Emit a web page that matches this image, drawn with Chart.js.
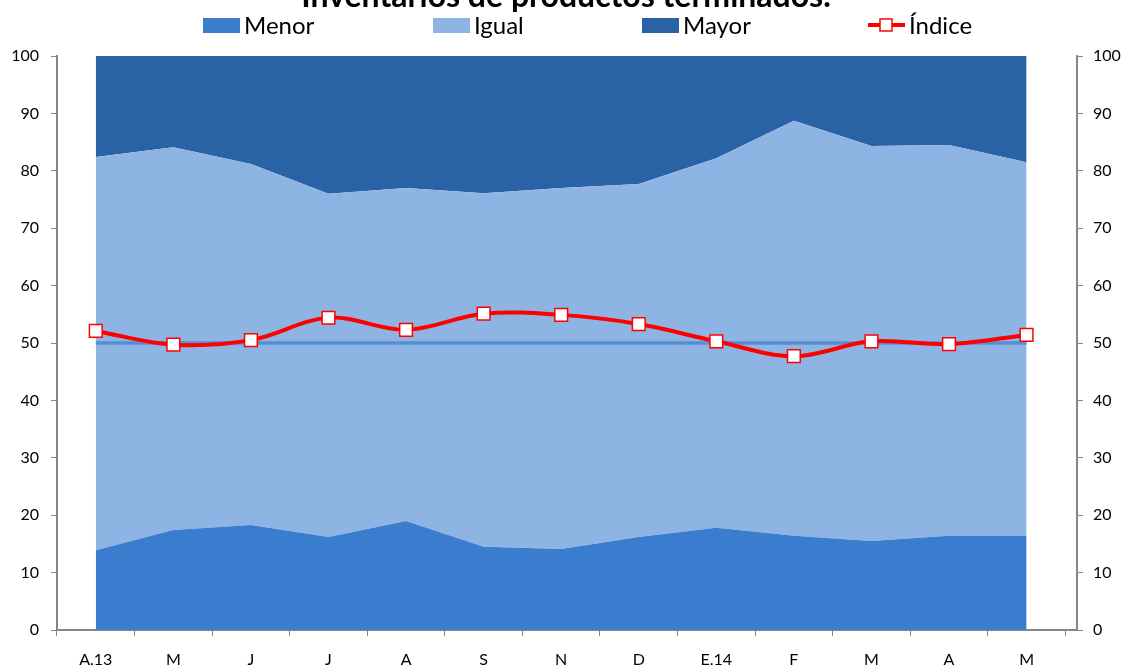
<!DOCTYPE html>
<html>
<head>
<meta charset="utf-8">
<script src="https://cdn.jsdelivr.net/npm/chart.js@4"></script>
<style>
  html, body { margin: 0; padding: 0; background: #fff; }
  #wrap { width: 1123px; height: 669px; }
</style>
</head>
<body>
<div id="wrap"><canvas id="grafico"></canvas></div>
<script>
const labels = ["A.13", "M", "J", "J", "A", "S", "N", "D", "E.14", "F", "M", "A", "M"];
const menor = [13.9, 17.4, 18.3, 16.2, 19.0, 14.5, 14.1, 16.2, 17.8, 16.4, 15.5, 16.4, 16.4];
const igual = [68.5, 66.7, 62.9, 59.8, 58.0, 61.6, 62.9, 61.5, 64.4, 72.3, 68.8, 68.1, 65.1];
const mayor = [17.6, 15.9, 18.8, 24.0, 23.0, 23.9, 23.0, 22.3, 17.8, 11.3, 15.7, 15.5, 18.5];
const indice = [52.1, 49.7, 50.5, 54.4, 52.3, 55.1, 54.9, 53.3, 50.3, 47.7, 50.3, 49.8, 51.4];
const referencia = [50, 50, 50, 50, 50, 50, 50, 50, 50, 50, 50, 50, 50];

const FONT = "Lato, 'Open Sans', sans-serif";
const GRIS = "#868686";

// titulo cortado arriba, como en la imagen
const tituloPlugin = {
  id: "titulo",
  afterDraw(chart) {
    const ctx = chart.ctx;
    ctx.save();
    ctx.font = "bold 32px " + FONT;
    ctx.fillStyle = "#000";
    ctx.textAlign = "center";
    ctx.textBaseline = "alphabetic";
    ctx.fillText("Inventarios de productos terminados.", 566, 7);
    ctx.restore();
  }
};

// leyenda a mano (posiciones como en Excel)
const leyendaPlugin = {
  id: "leyenda",
  afterDraw(chart) {
    const ctx = chart.ctx;
    const xs = [203, 433, 642, 868];
    const y = 25;
    ctx.save();
    ctx.font = "24px " + FONT;
    ctx.textBaseline = "middle";
    ctx.textAlign = "left";
    [0, 1, 2, 4].forEach((di, i) => {
      const ds = chart.data.datasets[di];
      const x = xs[i];
      if (ds.fill !== false) {
        ctx.fillStyle = ds.backgroundColor;
        ctx.fillRect(x, y - 7, 37, 15);
      } else {
        ctx.strokeStyle = ds.borderColor;
        ctx.lineWidth = 4;
        ctx.beginPath();
        ctx.moveTo(x, y);
        ctx.lineTo(x + 37, y);
        ctx.stroke();
        ctx.fillStyle = "#fff";
        ctx.lineWidth = 1.5;
        ctx.fillRect(x + 12, y - 6, 12, 12);
        ctx.strokeRect(x + 12, y - 6, 12, 12);
      }
      ctx.fillStyle = "#000";
      ctx.fillText(ds.label, x + 41, y + 1);
    });
    ctx.restore();
  }
};

new Chart(document.getElementById("grafico"), {
  type: "line",
  data: {
    labels: labels,
    datasets: [
      {
        label: "Menor",
        data: menor,
        yAxisID: "y",
        fill: "origin",
        backgroundColor: "#3A7DCE",
        borderColor: "#3A7DCE",
        borderWidth: 0,
        pointRadius: 0,
        order: 3
      },
      {
        label: "Igual",
        data: igual,
        yAxisID: "y",
        fill: "-1",
        backgroundColor: "#8EB4E3",
        borderColor: "#8EB4E3",
        borderWidth: 0,
        pointRadius: 0,
        order: 3
      },
      {
        label: "Mayor",
        data: mayor,
        yAxisID: "y",
        fill: "-1",
        backgroundColor: "#2A62A6",
        borderColor: "#2A62A6",
        borderWidth: 0,
        pointRadius: 0,
        order: 3
      },
      {
        label: "50",
        data: referencia,
        yAxisID: "y2",
        fill: false,
        borderColor: "#558ED5",
        borderWidth: 3.5,
        pointRadius: 0,
        order: 2
      },
      {
        label: "Índice",
        data: indice,
        yAxisID: "y2",
        fill: false,
        borderColor: "#FF0000",
        borderWidth: 4,
        tension: 0.35,
        pointStyle: "rect",
        pointRadius: 9,
        pointBackgroundColor: "#fff",
        pointBorderColor: "#FF0000",
        pointBorderWidth: 1.5,
        order: 1
      }
    ]
  },
  options: {
    responsive: true,
    maintainAspectRatio: false,
    animation: false,
    layout: {
      padding: { top: 56, left: 0, right: 0, bottom: 0 }
    },
    plugins: {
      legend: { display: false },
      title: { display: false },
      tooltip: { enabled: false }
    },
    scales: {
      x: {
        offset: true,
        // en Excel las categorias no llegan hasta el eje derecho
        afterBuildTicks(s) { s._valueRange = s._valueRange + 0.15; },
        grid: { offset: true, drawOnChartArea: false, tickLength: 6, color: GRIS },
        border: { color: GRIS, width: 2 },
        ticks: { color: "#000", padding: 14, font: { family: FONT, size: 16 } },
        afterFit(s) { s.height = 39; }
      },
      y: {
        position: "left",
        stacked: true,
        min: 0,
        max: 100,
        ticks: { stepSize: 10, color: "#000", padding: 12, font: { family: FONT, size: 16 } },
        grid: { drawOnChartArea: false, tickLength: 6, color: GRIS },
        border: { color: GRIS, width: 2 },
        afterFit(s) { s.width = 57; }
      },
      y2: {
        position: "right",
        min: 0,
        max: 100,
        ticks: { stepSize: 10, color: "#000", padding: 10, font: { family: FONT, size: 16 } },
        grid: { drawOnChartArea: false, tickLength: 6, color: GRIS },
        border: { color: GRIS, width: 2 },
        afterFit(s) { s.width = 46; }
      }
    }
  },
  plugins: [tituloPlugin, leyendaPlugin]
});
</script>
</body>
</html>
